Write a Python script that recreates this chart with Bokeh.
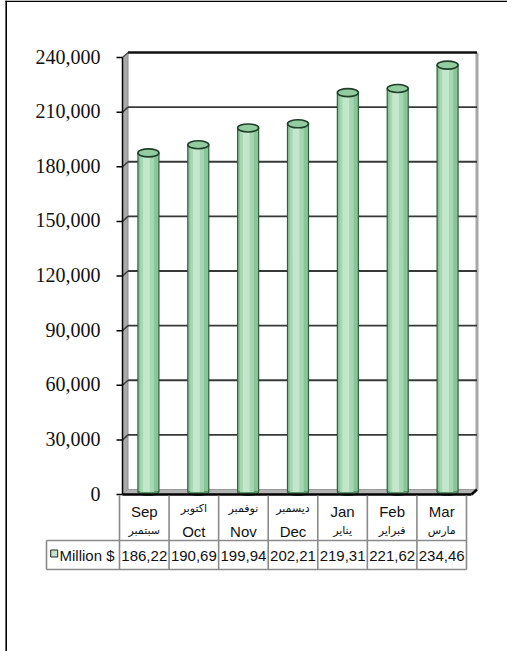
from bokeh.plotting import figure
from bokeh.models import Range1d
from bokeh.core.properties import value
from bokeh.embed import file_html
from bokeh.resources import INLINE

# ---------------- data ----------------
months_en = ["Sep", "Oct", "Nov", "Dec", "Jan", "Feb", "Mar"]
months_ar = ["سبتمبر", "اكتوبر", "نوفمبر", "ديسمبر", "يناير", "فبراير", "مارس"]
arabic_on_top = [False, True, True, True, False, False, False]
values = [186220, 190690, 199940, 202210, 219310, 221620, 234460]
y_ticks = [0, 30000, 60000, 90000, 120000, 150000, 180000, 210000, 240000]
series_name = "Million $"

# ---------------- layout / style constants (canvas px) ----------------
W, H = 507, 651
AXIS_X_PX = 122                    # front-plane left edge (y axis line)
Y_ZERO_PX, Y_MAX_PX = 494, 57      # canvas px of 0 and of the max tick
CAT_PX = 349 / 7                   # px per category on the front plane
DX_PX, DY_PX = 5.5, 5.0            # 3-D depth offset
BAR_W_PX = 21
BAR_SHIFT_PX = 1.0
TICK_LEN_PX = 6
LABEL_GAP_PX = 16
SERIF = value("Liberation Serif")
SANS = value("Liberation Sans")
ARABIC = value("DejaVu Sans")

n = len(months_en)
y_max = max(y_ticks)
u = y_max / (Y_ZERO_PX - Y_MAX_PX)          # data units per px (y)
x_start = -0.5 - AXIS_X_PX / CAT_PX
x_end = x_start + W / CAT_PX
y_start = -(H - Y_ZERO_PX) * u
y_end = y_max + Y_MAX_PX * u
dx = DX_PX / CAT_PX
dy = DY_PX * u
xl, xr = -0.5, n - 0.5

# table coordinates
COL_W = 49.57
COL_L_PX = 119
tx0 = -0.5 - COL_L_PX / COL_W
tx1 = tx0 + W / COL_W
def tx(px):
    return tx0 + px / COL_W

p = figure(width=W, height=H, x_range=Range1d(x_start, x_end),
           y_range=Range1d(y_start, y_end), toolbar_location=None,
           output_backend="svg", x_axis_location=None, y_axis_location=None,
           min_border=0)
p.extra_x_ranges = {"tbl": Range1d(tx0, tx1), "pxx": Range1d(0, W)}
p.extra_y_ranges = {"px": Range1d(H, 0)}
p.grid.visible = False
p.outline_line_color = None
p.background_fill_color = "white"
p.border_fill_color = "white"

# outer frame (left and top edges visible)
p.segment(x0=[5.7, 5.0], y0=[0, 0.8], x1=[5.7, W], y1=[H, 0.8],
          line_color="black", line_width=1.6, x_range_name="pxx", y_range_name="px")

# back wall
p.quad(left=[xl + dx], right=[xr + dx], bottom=[dy], top=[y_max + dy],
       fill_color="white", line_color=None)
# left side wall
p.patch(x=[xl, xl + dx, xl + dx, xl], y=[0, dy, y_max + dy, y_max],
        fill_color="#a9a9a9", line_color="#8c8c8c", line_width=1)
# right edge of back wall
p.segment(x0=[xr + dx], y0=[dy], x1=[xr + dx], y1=[y_max + dy],
          line_color="#a8a8a8", line_width=3)
# gridlines on back wall
gt = y_ticks[1:-1]
p.segment(x0=[xl] * len(gt), y0=gt, x1=[xl + dx] * len(gt), y1=[t + dy for t in gt],
          line_color="#3c3c3c", line_width=1.5)
p.segment(x0=[xl + dx] * len(gt), y0=[t + dy for t in gt],
          x1=[xr + dx] * len(gt), y1=[t + dy for t in gt],
          line_color="#383838", line_width=1.8)
p.segment(x0=[xl + dx], y0=[y_max + dy], x1=[xr + dx], y1=[y_max + dy],
          line_color="#111111", line_width=2.5)
p.segment(x0=[xl], y0=[y_max], x1=[xl + dx], y1=[y_max + dy],
          line_color="#555555", line_width=1.5)
# floor
p.patch(x=[xl, xr, xr + dx, xl + dx], y=[0, 0, dy, dy],
        fill_color="#b3b3b3", line_color="#9a9a9a", line_width=1)

# bars (cylinders)
bx = [i + BAR_SHIFT_PX / CAT_PX for i in range(n)]
bw = BAR_W_PX / CAT_PX
tops = [v + dy / 2 for v in values]
bot = [dy / 2] * n
p.ellipse(x=bx, y=bot, width=bw, height=7, height_units="screen",
          fill_color="#8cc69b", line_color="#2e5e39", line_width=1)
p.vbar(x=bx, width=bw, bottom=bot, top=tops, fill_color="#8ac59a",
       line_color="#2e5e39", line_width=1.2)
p.vbar(x=[b - 1.2 / CAT_PX for b in bx], width=bw * 0.66, bottom=bot, top=tops,
       fill_color="#a6d7b3", line_color=None)
p.vbar(x=[b - 2.0 / CAT_PX for b in bx], width=bw * 0.32, bottom=bot, top=tops,
       fill_color="#c4e7cc", line_color=None)
p.ellipse(x=bx, y=tops, width=bw, height=8, height_units="screen",
          fill_color="#93cca1", line_color="#1f4027", line_width=1.6)

# front floor edge
p.segment(x0=[xl, xr], y0=[0, 0], x1=[xr, xr + dx], y1=[0, dy],
          line_color="black", line_width=2.5)

# y axis (line, ticks, labels) on the front plane
p.segment(x0=[xl], y0=[0], x1=[xl], y1=[y_max], line_color="black", line_width=1.5)
p.segment(x0=[xl - TICK_LEN_PX / CAT_PX] * len(y_ticks), y0=y_ticks,
          x1=[xl] * len(y_ticks), y1=y_ticks, line_color="black", line_width=1.5)
p.text(x=[xl] * len(y_ticks), y=y_ticks, text=[f"{t:,}" for t in y_ticks],
       x_offset=-(TICK_LEN_PX + LABEL_GAP_PX), y_offset=-1,
       text_align="right", text_baseline="middle",
       text_font=SERIF, text_font_size="20px", text_color="#111111")

# ---------------- data table below ----------------
HDR_TOP, ROW_DIV, ROW_BOT = 495, 540, 569
LEG_L_PX = 46
leg_l = tx(LEG_L_PX)
GRAY = "#8a8a8a"
tb = dict(x_range_name="tbl", y_range_name="px")
vx = [i - 0.5 for i in range(n + 1)]
p.segment(x0=vx, y0=[HDR_TOP] * len(vx), x1=vx, y1=[ROW_BOT] * len(vx),
          line_color=GRAY, line_width=1.6, **tb)
p.segment(x0=[leg_l], y0=[ROW_DIV], x1=[leg_l], y1=[ROW_BOT], line_color=GRAY,
          line_width=1.6, **tb)
p.segment(x0=[leg_l, leg_l], y0=[ROW_DIV, ROW_BOT], x1=[xr, xr], y1=[ROW_DIV, ROW_BOT],
          line_color=GRAY, line_width=1.6, **tb)

cx = list(range(n))
en_y = [530.5 if a else 511 for a in arabic_on_top]
ar_y = [508 if a else 530 for a in arabic_on_top]
p.text(x=cx, y=en_y, text=months_en, text_align="center", text_baseline="middle",
       text_font=SANS, text_font_size="15px", text_color="#111111", **tb)
p.text(x=cx, y=ar_y, text=months_ar, text_align="center", text_baseline="middle",
       text_font=ARABIC, text_font_size="11px", text_color="#111111", **tb)
labels = [f"{v / 1000:.2f}".replace(".", ",") for v in values]
p.text(x=cx, y=[555] * n, text=labels, text_align="center", text_baseline="middle",
       text_font=SANS, text_font_size="15px", text_color="#111111", **tb)
# legend key
p.rect(x=[tx(53.7)], y=[553], width=7, height=7, width_units="screen",
       height_units="screen", fill_color="#c3e4c9", line_color="#222222",
       line_width=1, **tb)
p.text(x=[tx(59)], y=[555], text=[series_name], text_align="left",
       text_baseline="middle", text_font=SANS, text_font_size="15px",
       text_color="#111111", **tb)

open("out.html", "w").write(file_html(p, INLINE))
